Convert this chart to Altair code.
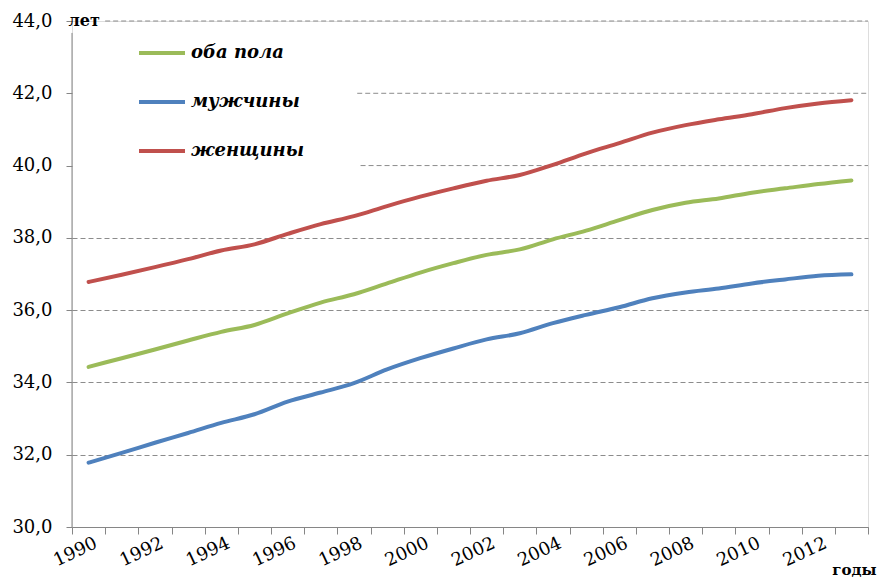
import altair as alt
import pandas as pd

years = list(range(1990, 2014))
series_names = ["оба пола", "мужчины", "женщины"]
series_colors = ["#9BBB59", "#4F81BD", "#C0504D"]
both = [34.43, 34.67, 34.91, 35.16, 35.40, 35.59, 35.91, 36.21, 36.44, 36.74, 37.04, 37.30,
        37.53, 37.68, 37.96, 38.20, 38.49, 38.77, 38.97, 39.09, 39.25, 39.37, 39.49, 39.59]
men = [31.78, 32.05, 32.33, 32.60, 32.88, 33.12, 33.47, 33.72, 33.98, 34.36, 34.67, 34.94,
       35.19, 35.36, 35.64, 35.87, 36.08, 36.33, 36.49, 36.60, 36.74, 36.85, 36.95, 36.99]
women = [36.78, 36.98, 37.19, 37.41, 37.65, 37.82, 38.11, 38.38, 38.60, 38.88, 39.14, 39.37,
         39.58, 39.74, 40.02, 40.34, 40.62, 40.91, 41.12, 41.28, 41.42, 41.59, 41.72, 41.81]
y_ticks = [30, 32, 34, 36, 38, 40, 42, 44]
# gridlines partly hidden behind the "лет" label and the legend box
part_grid_y = [44, 42, 40]
part_grid_start = [1990.5, 1998.1, 1998.2]

rows = []
for name, vals in zip(series_names, [both, men, women]):
    for yr, v in zip(years, vals):
        rows.append({"year": yr, "value": v, "series": name})
df = pd.DataFrame(rows)

FONT = "DejaVu Serif"
AXIS_GRAY = "#868686"
GRID_GRAY = "#8c8c8c"

boundaries = [y - 0.5 for y in range(1990, 2015)]
xscale = alt.Scale(domain=[1989.5, 2013.5], nice=False, zero=False)
yscale = alt.Scale(domain=[30, 44], nice=False, zero=False)

x_axis = alt.Axis(
    values=boundaries,
    labelExpr="((datum.value - 1989.5) % 2 == 0 && datum.value < 2013) ? toString(datum.value + 0.5) : ''",
    labelAngle=-25, labelAlign="right", labelBaseline="top", labelOffset=20,
    labelPadding=0, tickSize=7, tickColor=AXIS_GRAY, domainColor=AXIS_GRAY,
    labelFont=FONT, labelFontSize=18, labelColor="black",
    labelOverlap=False, labelFlush=False, labelBound=False, grid=False,
    title="годы", titleX=804, titleY=47, titleAlign="right", titleBaseline="alphabetic",
    titleFont=FONT, titleFontSize=15, titleFontWeight="bold", titleColor="black",
)
y_axis = alt.Axis(
    values=y_ticks,
    labelExpr="replace(format(datum.value, '.1f'), '.', ',')",
    labelFont=FONT, labelFontSize=18, labelColor="black", labelPadding=14,
    tickSize=6, tickColor=AXIS_GRAY, domain=False,
    grid=True, gridColor=GRID_GRAY, gridDash=[5, 3], gridWidth=1,
    gridOpacity={"condition": {"test": "datum.value >= 40", "value": 0}, "value": 1},
    title="лет", titleAngle=0, titleX=-4, titleY=-1, titleAlign="left", titleBaseline="middle",
    titleFont=FONT, titleFontSize=16, titleFontWeight="bold", titleColor="black",
)

lines = alt.Chart(df).mark_line(strokeWidth=4, interpolate="monotone", strokeCap="round").encode(
    x=alt.X("year:Q", scale=xscale, axis=x_axis),
    y=alt.Y("value:Q", scale=yscale, axis=y_axis),
    color=alt.Color(
        "series:N",
        sort=series_names,
        scale=alt.Scale(domain=series_names, range=series_colors),
        legend=alt.Legend(
            title=None, orient="none", legendX=2, legendY=3,
            padding=4, symbolType="stroke",
            symbolSize=2116, symbolStrokeWidth=4, symbolOffset=59,
            labelFont=FONT, labelFontSize=18, labelFontWeight="bold", labelFontStyle="italic",
            labelColor="black", labelOffset=4, rowPadding=15,
        ),
    ),
)

part_grid = alt.Chart(pd.DataFrame({
    "x1": part_grid_start, "x2": [2013.5] * len(part_grid_y), "y": part_grid_y
})).mark_rule(color=GRID_GRAY, strokeDash=[5, 3], strokeWidth=1).encode(
    x=alt.X("x1:Q", scale=xscale, axis=x_axis), x2="x2:Q",
    y=alt.Y("y:Q", scale=yscale, axis=y_axis),
)
yline = alt.Chart(pd.DataFrame({"x": [1989.5], "y1": [30], "y2": [43.67]})).mark_rule(
    color=AXIS_GRAY, strokeWidth=1
).encode(
    x=alt.X("x:Q", scale=xscale, axis=x_axis),
    y=alt.Y("y1:Q", scale=yscale, axis=y_axis), y2="y2:Q",
)

chart = alt.layer(part_grid, yline, lines).properties(
    width=796, height=506,
    padding={"left": 64, "top": 13, "right": 10, "bottom": 50},
    autosize=alt.AutoSizeParams(type="none"),
).configure_view(stroke=None).configure(background="white")

chart.save("out.html", embed_options={"renderer": "svg", "actions": False})
